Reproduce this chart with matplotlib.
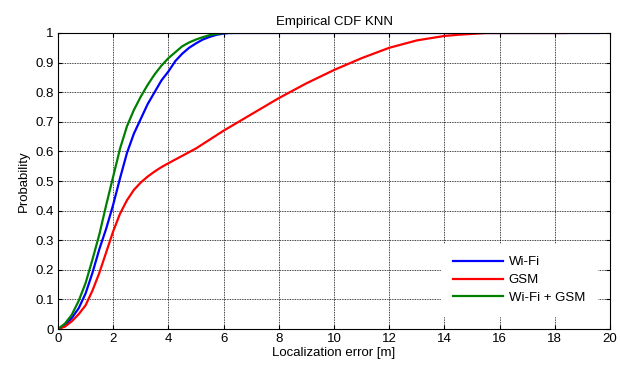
import numpy as np
import matplotlib.pyplot as plt

plt.rcParams['font.family'] = ['Liberation Sans', 'DejaVu Sans']

# Localization error [m] and cumulative probability
x_wifi = [0, 0.25, 0.5, 0.75, 1.0, 1.25, 1.5, 1.75, 2.0, 2.25, 2.5, 2.75, 3.0,
          3.25, 3.5, 3.75, 4.0, 4.25, 4.5, 4.75, 5.0, 5.25, 5.5, 5.75, 6.0,
          6.2, 19.6]
y_wifi = [0, 0.012, 0.037, 0.07, 0.12, 0.19, 0.27, 0.34, 0.42, 0.51, 0.595,
          0.66, 0.71, 0.76, 0.80, 0.84, 0.87, 0.905, 0.93, 0.95, 0.965, 0.978,
          0.987, 0.994, 0.998, 1.0, 1.0]

x_gsm = [0, 0.25, 0.5, 0.75, 1.0, 1.25, 1.5, 1.75, 2.0, 2.25, 2.5, 2.75, 3.0,
         3.25, 3.5, 3.75, 4.0, 4.5, 5.0, 5.5, 6.0, 7.0, 8.0, 9.0, 10.0, 11.0,
         12.0, 13.0, 14.0, 14.5, 15.0, 15.5, 18.4]
y_gsm = [0, 0.008, 0.026, 0.05, 0.08, 0.13, 0.19, 0.26, 0.33, 0.39, 0.435,
         0.47, 0.495, 0.515, 0.532, 0.547, 0.56, 0.585, 0.61, 0.64, 0.67, 0.725,
         0.78, 0.83, 0.875, 0.915, 0.95, 0.975, 0.99, 0.994, 0.997, 1.0, 1.0]

x_both = [0, 0.25, 0.5, 0.75, 1.0, 1.25, 1.5, 1.75, 2.0, 2.25, 2.5, 2.75, 3.0,
          3.25, 3.5, 3.75, 4.0, 4.25, 4.5, 4.75, 5.0, 5.25, 5.5, 5.75, 6.0, 6.3]
y_both = [0, 0.018, 0.048, 0.095, 0.155, 0.235, 0.32, 0.42, 0.515, 0.61, 0.685,
          0.74, 0.785, 0.825, 0.86, 0.89, 0.915, 0.935, 0.955, 0.968, 0.978,
          0.986, 0.993, 0.997, 1.0, 1.0]

labels = ['Wi-Fi', 'GSM', 'Wi-Fi + GSM']

fig = plt.figure(figsize=(6.2, 3.65), dpi=100)
ax = fig.add_axes([0.0935, 0.0986, 0.8905, 0.811])

ax.plot(x_wifi, y_wifi, color='#0000ff', lw=1.6, label=labels[0])
ax.plot(x_gsm, y_gsm, color='#ff0000', lw=1.6, label=labels[1])
ax.plot(x_both, y_both, color='#008000', lw=1.6, label=labels[2])

ax.set_xlim(0, 20)
ax.set_ylim(0, 1)
ax.set_xticks(np.arange(0, 21, 2))
ax.set_yticks(np.arange(0, 1.01, 0.1))
ax.set_yticklabels(['0', '0.1', '0.2', '0.3', '0.4', '0.5', '0.6', '0.7',
                    '0.8', '0.9', '1'])
ax.tick_params(direction='in', length=3, labelsize=9.5, top=True, right=True, pad=3)
ax.grid(True, color='black', linestyle=(0, (1, 1)), linewidth=0.6)
for s in ax.spines.values():
    s.set_linewidth(0.8)

ax.set_title('Empirical CDF KNN', fontsize=9.5, pad=6)
ax.set_xlabel('Localization error [m]', fontsize=9.5, labelpad=1)
ax.set_ylabel('Probability', fontsize=9.5, labelpad=4)

leg = ax.legend(loc='lower right', fontsize=9.5, frameon=True, fancybox=False,
                edgecolor='white', framealpha=1, borderaxespad=1.0,
                handlelength=3.8, labelspacing=0.42, borderpad=0.9,
                handletextpad=0.4)

fig.savefig('out.png', dpi=100)
